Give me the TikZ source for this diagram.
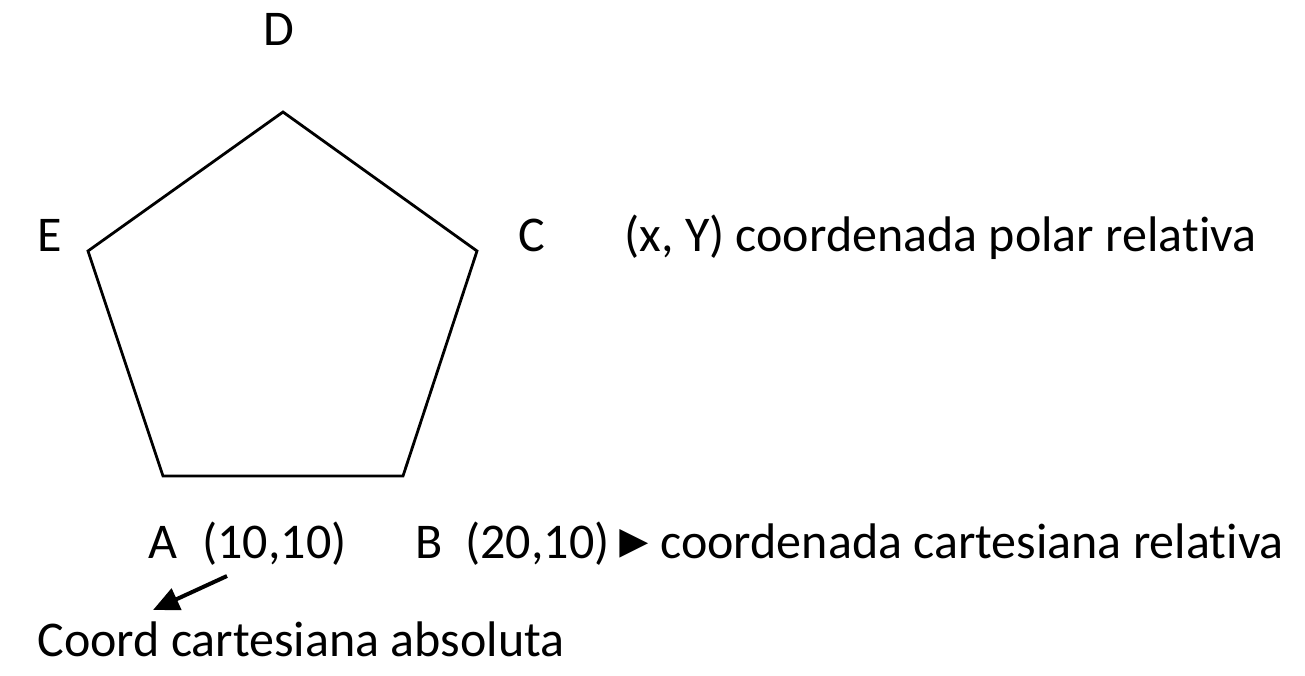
\documentclass[tikz,border=0pt]{standalone}
\usepackage{fontspec}
\setmainfont{Carlito}[Ligatures=CommonOff]
\newfontfamily\symfont{Liberation Sans}
\usepackage{tikz}
\usetikzlibrary{arrows.meta,positioning}

\begin{document}
\begin{tikzpicture}[x=0.5pt, y=-0.5pt]
    \useasboundingbox (0,0) rectangle (1305,675);

    % Style for nodes
    \tikzset{
        lbl/.style={anchor=base west, inner sep=0pt, font=\fontsize{25}{30}\selectfont},
        pentline/.style={black, line width=1.4pt, line join=miter},
        pointer/.style={black, line width=2pt, -{Triangle[length=13pt, width=11.5pt]}}
    }

    % --- PENTAGON VERTICES ---
    \coordinate (pA) at (163,476);
    \coordinate (pB) at (403,476);
    \coordinate (pC) at (477,251);
    \coordinate (pD) at (283,112);
    \coordinate (pE) at (88,251);
    \draw[pentline] (pA) -- (pB) -- (pC) -- (pD) -- (pE) -- cycle;

    % --- VERTEX LABELS ---
    \node[lbl] (lD) at (263,45) {D};
    \node[lbl] (lE) at (37,251) {E};
    \node[lbl] (lC) at (518,251) {C};
    \node[lbl] (polar) at (624,251) {(x, Y) coordenada polar relativa};

    % --- BOTTOM ROW ---
    \node[lbl] (lA) at (148,558) {A};
    \node[lbl] (cA) at (202,558) {(10,10)};
    \node[lbl] (lB) at (415,558) {B};
    \node[lbl] (cB) at (465,558) {(20,10)};
    \node[lbl, font=\symfont\fontsize{24}{28}\selectfont] (tri) at (610,557) {►};
    \node[lbl] (cart) at (660,558) {coordenada cartesiana relativa};
    \node[lbl] (absol) at (37,656) {Coord cartesiana absoluta};

    % --- ARROW ---
    \coordinate (arrS) at (227,576);
    \coordinate (arrE) at (153,610);
    \draw[pointer] (arrS) -- (arrE);

\end{tikzpicture}
\end{document}
